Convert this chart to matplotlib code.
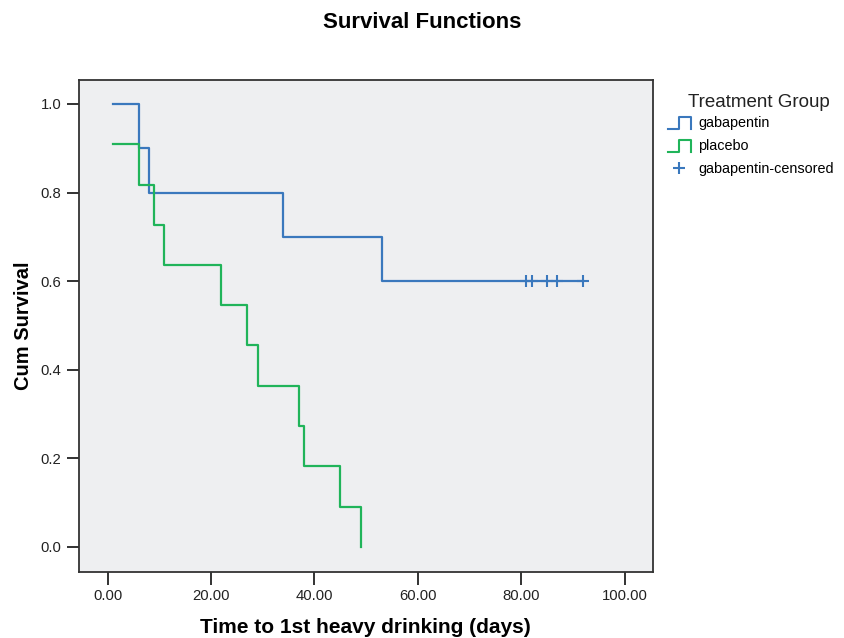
import matplotlib
matplotlib.use("Agg")
import matplotlib.pyplot as plt
from matplotlib.legend_handler import HandlerBase
from matplotlib.lines import Line2D

plt.rcParams['font.family'] = ['Liberation Sans', 'DejaVu Sans']

# Kaplan-Meier steps
gaba_time = [1, 6, 8, 34, 53, 92]
gaba_surv = [1.0, 0.9, 0.8, 0.7, 0.6, 0.6]
placebo_time = [1, 6, 9, 11, 22, 27, 29, 37, 38, 45, 49]
placebo_surv = [0.909, 0.818, 0.727, 0.636, 0.545, 0.455, 0.364, 0.273, 0.182, 0.091, 0.0]
gaba_censored_time = [81, 82, 85, 87, 92]
gaba_censored_surv = [0.6, 0.6, 0.6, 0.6, 0.6]

x_ticks = [0, 20, 40, 60, 80, 100]
y_ticks = [0.0, 0.2, 0.4, 0.6, 0.8, 1.0]

blue = "#3a78bd"
green = "#20b45a"


class StepHandler(HandlerBase):
    def create_artists(self, legend, orig_handle, xdescent, ydescent,
                       width, height, fontsize, trans):
        x0 = -xdescent
        w = width
        h = height * 1.25
        y0 = -ydescent - 0.2 * height
        xs = [x0, x0 + 0.5 * w, x0 + 0.5 * w, x0 + w, x0 + w]
        ys = [y0, y0, y0 + h, y0 + h, y0]
        line = Line2D(xs, ys, color=orig_handle.get_color(), lw=1.5,
                      transform=trans)
        return [line]


fig = plt.figure(figsize=(8.44, 6.38), dpi=100)
ax = fig.add_axes([0.0932, 0.1039, 0.680, 0.7707])
ax.set_facecolor("#eeeff1")

l1, = ax.step(gaba_time, gaba_surv, where="post", color=blue, lw=1.6)
l2, = ax.step(placebo_time, placebo_surv, where="post", color=green, lw=1.6)
l3, = ax.plot(gaba_censored_time, gaba_censored_surv, ls="none", marker="+",
              color=blue, ms=9, mew=1.5)

ax.set_xlim(-5.6, 105.4)
ax.set_ylim(-0.056, 1.054)
ax.set_xticks(x_ticks)
ax.set_xticklabels([f"{v:.2f}" for v in x_ticks])
ax.set_yticks(y_ticks)
ax.set_yticklabels([f"{v:.1f}" for v in y_ticks])
ax.tick_params(direction="out", length=9, width=1.3, labelsize=10.7,
               colors="#222222")
for s in ax.spines.values():
    s.set_color("#333333")
    s.set_linewidth(1.3)

ax.set_xlabel("Time to 1st heavy drinking (days)", fontsize=15,
              fontweight="bold", labelpad=11)
ax.set_ylabel("Cum Survival", fontsize=14.5, fontweight="bold", labelpad=5)
fig.suptitle("Survival Functions", fontsize=16, fontweight="bold",
             y=0.965, va="center")

# legend title sits to the right of the item column in the reference
fig.text(0.8987, 0.8386, "Treatment Group", fontsize=13.5,
         ha="center", va="center", color="#222222")
fig.legend([l1, l2, l3], ["gabapentin", "placebo", "gabapentin-censored"],
           loc="upper left", bbox_to_anchor=(0.776, 0.838), frameon=False,
           fontsize=10.4,
           handler_map={l1: StepHandler(), l2: StepHandler()},
           handlelength=1.6, handletextpad=0.5, labelspacing=0.62)

fig.savefig("out.png", dpi=100)
